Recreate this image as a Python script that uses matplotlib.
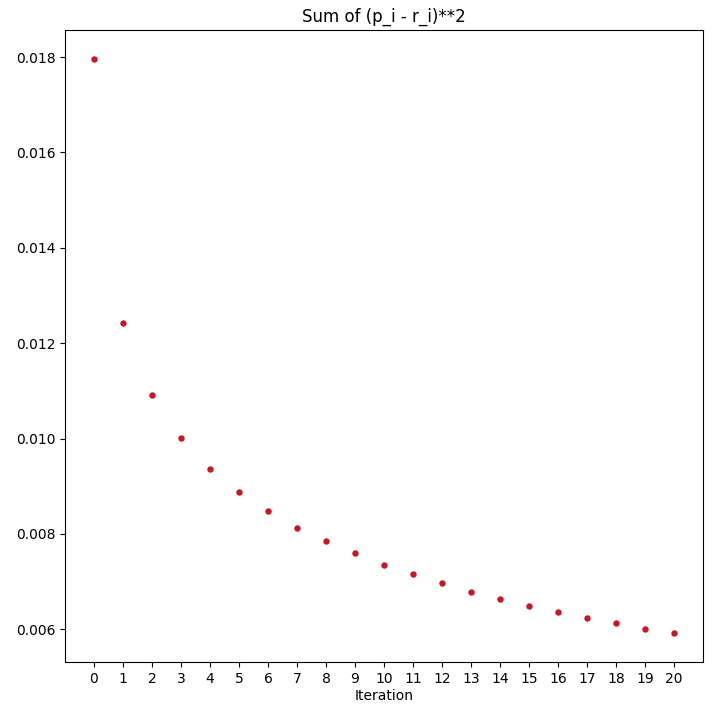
import matplotlib
matplotlib.use("Agg")
import matplotlib.pyplot as plt

iterations = list(range(21))
sum_sq = [0.017964, 0.012416, 0.010903, 0.010006, 0.009354, 0.008886, 0.008472,
          0.008129, 0.007841, 0.007589, 0.007352, 0.007163, 0.006973, 0.006790,
          0.006643, 0.006490, 0.006364, 0.006238, 0.006126, 0.006013, 0.005916]
title = "Sum of (p_i - r_i)**2"
xlabel = "Iteration"

fig = plt.figure(figsize=(7.13, 7.05), dpi=100)
ax = fig.add_axes([65/713, 1-662/705, (703-65)/713, (662-30)/705])
ax.plot(iterations, sum_sq, linestyle="none", marker="o", markersize=3.6,
        color="#cc1522")
ax.set_xticks(iterations)
ax.set_yticks([0.006, 0.008, 0.010, 0.012, 0.014, 0.016, 0.018])
ax.set_yticklabels(["0.006", "0.008", "0.010", "0.012", "0.014", "0.016", "0.018"])
ax.set_title(title, fontsize=12)
ax.set_xlabel(xlabel, labelpad=2)
ax.tick_params(labelsize=10)
fig.savefig("out.png", dpi=100)
